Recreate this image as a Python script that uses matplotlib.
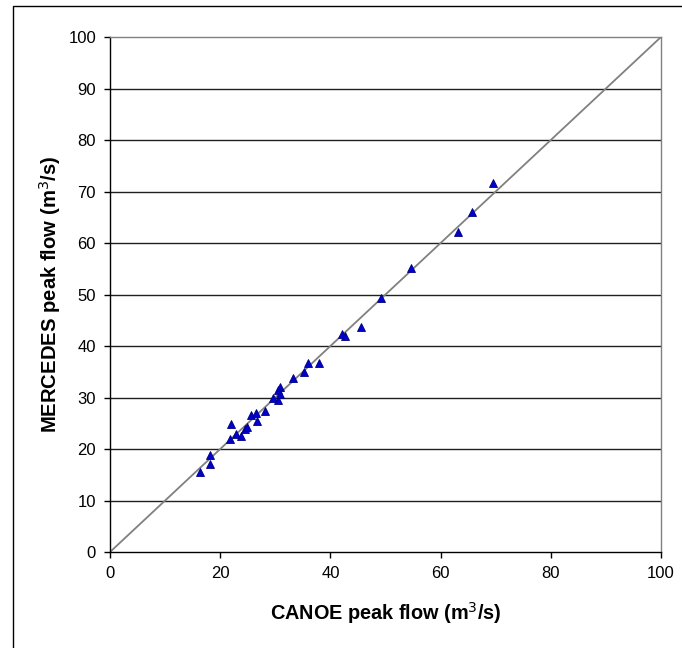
import matplotlib
matplotlib.use("Agg")
import matplotlib.pyplot as plt
from matplotlib.patches import Rectangle

plt.rcParams['font.family'] = ['Liberation Sans', 'DejaVu Sans']

# caudales pico (m3/s)
canoe = [16.4, 18.1, 18.1, 21.7, 22.0, 22.8, 23.7, 24.5, 24.9, 25.5, 26.5, 26.7,
         28.2, 29.6, 30.4, 30.4, 30.9, 30.9, 33.2, 35.2, 35.9, 38.0, 42.1, 42.7,
         45.5, 49.1, 54.7, 63.1, 65.7, 69.6]
mercedes = [15.6, 17.1, 18.9, 21.9, 24.9, 23.0, 22.5, 23.9, 24.3, 26.7, 27.0, 25.4,
            27.4, 29.9, 29.5, 31.4, 32.0, 30.7, 33.8, 35.0, 36.8, 36.8, 42.4, 41.9,
            43.6, 49.3, 55.2, 62.1, 66.0, 71.6]
linea = [0, 100]
ticks_x = [0, 20, 40, 60, 80, 100]
ticks_y = list(range(0, 101, 10))

fig = plt.figure(figsize=(6.82, 6.48), dpi=100)
ax = fig.add_axes([0.1613, 0.1481, 0.8079, 0.7948])

# borde del grafico (recortado a la derecha y abajo)
fig.patches.append(Rectangle((12.5 / 682, -0.05), 1.0, 1 - 6 / 648 + 0.05,
                             transform=fig.transFigure, fill=False,
                             edgecolor='black', linewidth=1.0))

for v in ticks_y[1:-1]:
    ax.axhline(v, color='#202020', linewidth=1.0, zorder=1)

ax.plot(linea, linea, color='#808080', linewidth=1.3, zorder=2)
ax.plot(canoe, mercedes, linestyle='none', marker='^', markersize=6,
        markerfacecolor='#0000CC', markeredgecolor='#000080',
        markeredgewidth=0.6, zorder=3)

ax.set_xlim(0, 100)
ax.set_ylim(0, 100)
ax.set_xticks(ticks_x)
ax.set_yticks(ticks_y)
ax.tick_params(direction='out', length=4, width=1, labelsize=12, pad=6)

ax.spines['left'].set_color('black')
ax.spines['bottom'].set_color('black')
ax.spines['top'].set_color('#808080')
ax.spines['right'].set_color('#808080')
for s in ax.spines.values():
    s.set_linewidth(1.0)

ax.set_xlabel('CANOE peak flow (m$^3$/s)', fontsize=14.3, fontweight='bold', labelpad=14)
ax.set_ylabel('MERCEDES peak flow (m$^3$/s)', fontsize=14.6, fontweight='bold', labelpad=4)

fig.savefig('out.png', dpi=100)
